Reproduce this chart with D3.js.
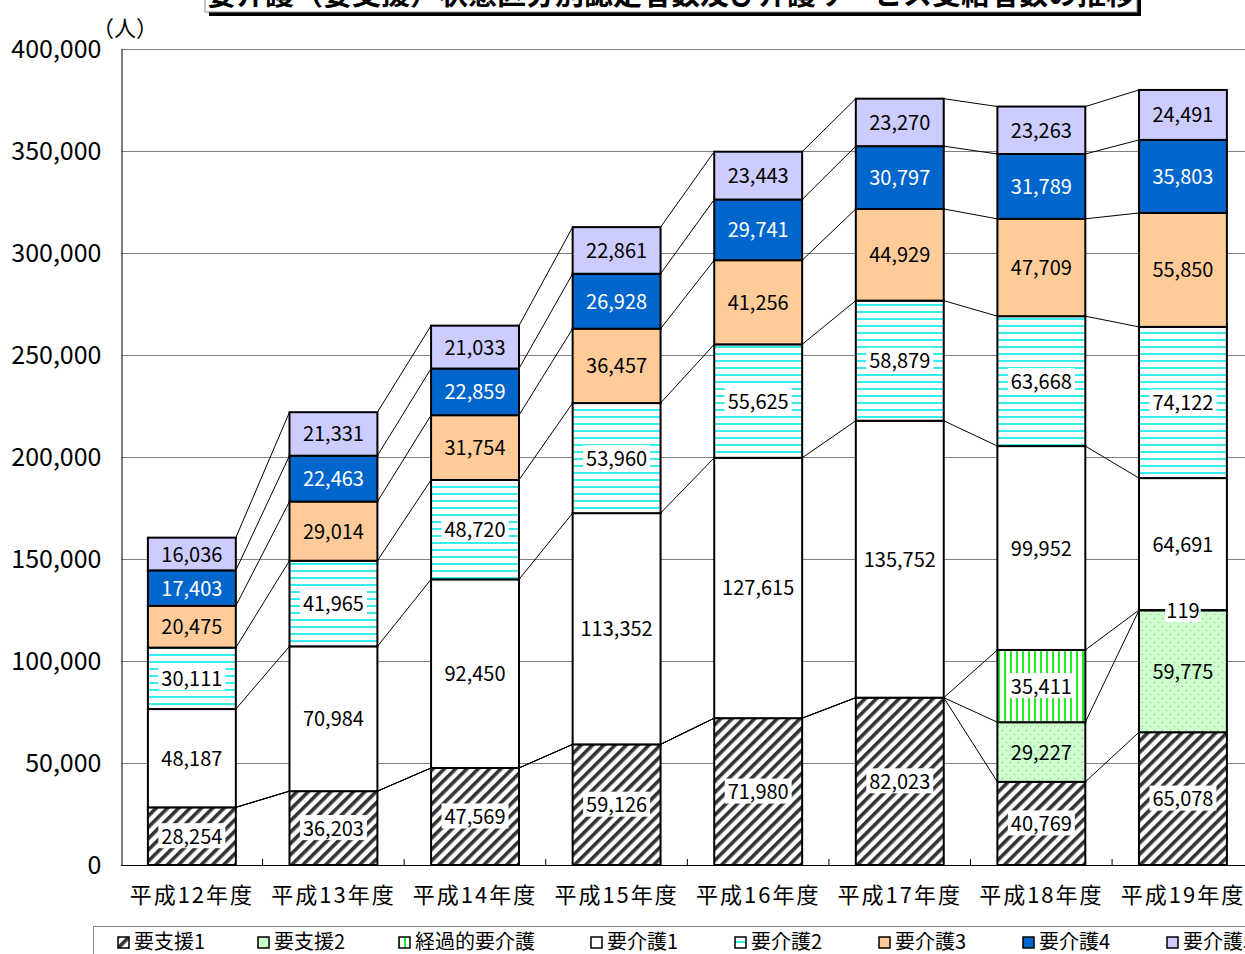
<!DOCTYPE html>
<html>
<head>
<meta charset="utf-8">
<script src="https://cdn.jsdelivr.net/npm/d3@7"></script>
<style>
  body { margin: 0; background: #fff; }
  svg { display: block; font-family: "Noto Sans CJK JP", "Noto Sans", sans-serif; }
</style>
</head>
<body>
<div class="chart"></div>
<script>
// data
var years = ["平成12年度", "平成13年度", "平成14年度", "平成15年度", "平成16年度", "平成17年度", "平成18年度", "平成19年度"];
var shien1 = [28254, 36203, 47569, 59126, 71980, 82023, 40769, 65078];
var shien2 = [0, 0, 0, 0, 0, 0, 29227, 59775];
var keika  = [0, 0, 0, 0, 0, 0, 35411, 119];
var kaigo1 = [48187, 70984, 92450, 113352, 127615, 135752, 99952, 64691];
var kaigo2 = [30111, 41965, 48720, 53960, 55625, 58879, 63668, 74122];
var kaigo3 = [20475, 29014, 31754, 36457, 41256, 44929, 47709, 55850];
var kaigo4 = [17403, 22463, 22859, 26928, 29741, 30797, 31789, 35803];
var kaigo5 = [16036, 21331, 21033, 22861, 23443, 23270, 23263, 24491];
var seriesNames = ["要支援1", "要支援2", "経過的要介護", "要介護1", "要介護2", "要介護3", "要介護4", "要介護5"];
var yTicks = [0, 50000, 100000, 150000, 200000, 250000, 300000, 350000, 400000];
var titleText = "要介護（要支援）状態区分別認定者数及び介護サービス受給者数の推移";

var W = 1245, H = 954;
var svg = d3.select(".chart").append("svg")
  .attr("width", W).attr("height", H);

// fills
var defs = svg.append("defs");
var p1 = defs.append("pattern").attr("id", "hatch")
  .attr("patternUnits", "userSpaceOnUse").attr("width", 8).attr("height", 8)
  .attr("patternTransform", "rotate(45)");
p1.append("rect").attr("width", 8).attr("height", 8).attr("fill", "#fff");
p1.append("rect").attr("x", 0).attr("width", 3.6).attr("height", 8).attr("fill", "#333");

var p2 = defs.append("pattern").attr("id", "dots")
  .attr("patternUnits", "userSpaceOnUse").attr("width", 8).attr("height", 8);
p2.append("rect").attr("width", 8).attr("height", 8).attr("fill", "#ccffcc");
p2.append("rect").attr("x", 2).attr("y", 2).attr("width", 1).attr("height", 1).attr("fill", "#999");
p2.append("rect").attr("x", 6).attr("y", 6).attr("width", 1).attr("height", 1).attr("fill", "#999");

var p3 = defs.append("pattern").attr("id", "vstripe")
  .attr("patternUnits", "userSpaceOnUse").attr("width", 6).attr("height", 6);
p3.append("rect").attr("width", 6).attr("height", 6).attr("fill", "#fff");
p3.append("rect").attr("x", 2).attr("width", 2).attr("height", 6).attr("fill", "#22ee22");

var p4 = defs.append("pattern").attr("id", "hstripe")
  .attr("patternUnits", "userSpaceOnUse").attr("width", 6).attr("height", 7);
p4.append("rect").attr("width", 6).attr("height", 7).attr("fill", "#fff");
p4.append("rect").attr("y", 3).attr("width", 6).attr("height", 2).attr("fill", "#33eeee");

var fills = ["url(#hatch)", "url(#dots)", "url(#vstripe)", "#ffffff", "url(#hstripe)", "#ffcc99", "#0066cc", "#ccccff"];
var textCol = ["#000", "#000", "#000", "#000", "#000", "#000", "#fff", "#000"];
var labelBg = [true, false, true, false, true, false, false, false];

// title box, mostly off the top edge
svg.append("rect").attr("x", 209).attr("y", -40).attr("width", 932).attr("height", 56).attr("fill", "#000");
svg.append("rect").attr("x", 205).attr("y", -44).attr("width", 932).attr("height", 56)
  .attr("fill", "#fff").attr("stroke", "#888").attr("stroke-width", 1);
svg.append("text").attr("x", 671).attr("y", 5).attr("text-anchor", "middle")
  .attr("font-size", 29).attr("font-weight", "bold").text(titleText);

// scales
var x = d3.scaleBand().domain(years)
  .range([121, 121 + 8 * 141.6])
  .paddingInner(0.379).paddingOuter(0.19);
var y = d3.scaleLinear().domain([0, 400000]).range([865, 49]);
var bw = x.bandwidth();

// gridlines
svg.append("g").selectAll("line").data(yTicks.slice(1)).enter().append("line")
  .attr("x1", 121).attr("x2", W)
  .attr("y1", function(d) { return y(d) + 0.5; }).attr("y2", function(d) { return y(d) + 0.5; })
  .attr("stroke", "#808080").attr("stroke-width", 1);

// y axis
var yAxis = d3.axisLeft(y).tickValues(yTicks).tickSize(0).tickPadding(20)
  .tickFormat(d3.format(","));
var gy = svg.append("g").attr("transform", "translate(121.5,0)").call(yAxis);
gy.select(".domain").attr("stroke", "#000");
gy.selectAll("text").attr("font-size", 25).attr("fill", "#000")
  .attr("font-family", "'Noto Sans CJK JP', sans-serif");
svg.append("text").attr("x", 92).attr("y", 36).attr("font-size", 22).text("（人）");

// x axis line with inner ticks at category boundaries
svg.append("line").attr("x1", 121).attr("x2", W).attr("y1", 865.5).attr("y2", 865.5)
  .attr("stroke", "#000");
svg.append("g").selectAll("line").data(d3.range(1, 9)).enter().append("line")
  .attr("x1", function(i) { return 121 + i * x.step(); })
  .attr("x2", function(i) { return 121 + i * x.step(); })
  .attr("y1", 859).attr("y2", 865).attr("stroke", "#000");
svg.append("g").selectAll("text").data(years).enter().append("text")
  .attr("x", function(d) { return x(d) + bw / 2; })
  .attr("y", 903).attr("text-anchor", "middle")
  .attr("font-size", 22).attr("letter-spacing", 2).text(function(d) { return d; });

// stack
var table = years.map(function(yr, i) {
  return { year: yr, s0: shien1[i], s1: shien2[i], s2: keika[i], s3: kaigo1[i],
           s4: kaigo2[i], s5: kaigo3[i], s6: kaigo4[i], s7: kaigo5[i] };
});
var keys = ["s0", "s1", "s2", "s3", "s4", "s5", "s6", "s7"];
var stacked = d3.stack().keys(keys)(table);

// series lines between bars
var lines = svg.append("g");
stacked.forEach(function(s) {
  for (var i = 0; i < years.length - 1; i++) {
    lines.append("line")
      .attr("x1", x(years[i]) + bw).attr("y1", y(s[i][1]))
      .attr("x2", x(years[i + 1])).attr("y2", y(s[i + 1][1]))
      .attr("stroke", "#000").attr("stroke-width", 1);
  }
});

// bars
var bars = svg.append("g");
stacked.forEach(function(s, k) {
  bars.selectAll(".b" + k).data(s.filter(function(d) { return d[1] > d[0]; }))
    .enter().append("rect")
    .attr("x", function(d) { return x(d.data.year); })
    .attr("y", function(d) { return y(d[1]); })
    .attr("width", bw)
    .attr("height", function(d) { return y(d[0]) - y(d[1]); })
    .attr("fill", fills[k])
    .attr("stroke", "#000").attr("stroke-width", 2);
});

// segment labels
var fmt = d3.format(",");
var labs = svg.append("g").attr("font-size", 20).attr("text-anchor", "middle");
stacked.forEach(function(s, k) {
  s.forEach(function(d) {
    var v = d[1] - d[0];
    if (v <= 0) return;
    var cx = x(d.data.year) + bw / 2;
    var cy = (y(d[0]) + y(d[1])) / 2;
    var t = fmt(v);
    if (labelBg[k] || v < 1000) {
      var tw = t.length * 10.5 + 4;
      labs.append("rect").attr("x", cx - tw / 2).attr("y", cy - 13)
        .attr("width", tw).attr("height", 25).attr("fill", "#fff");
    }
    labs.append("text").attr("x", cx).attr("y", cy + 7.5)
      .attr("fill", textCol[k]).text(t);
  });
});

// totals
var top = stacked[stacked.length - 1];
labs.selectAll(".tot").data(top).enter().append("text")
  .attr("x", function(d) { return x(d.data.year) + bw / 2; })
  .attr("y", function(d) { return y(d[1]) - 17; })
  .text(function(d) { return fmt(d[1]); });

// legend
var lg = svg.append("g");
lg.append("rect").attr("x", 93.5).attr("y", 926.5).attr("width", 1200).attr("height", 60)
  .attr("fill", "#fff").attr("stroke", "#888");
var legX = [118, 258, 399, 591, 735, 879, 1023, 1167];
seriesNames.forEach(function(n, k) {
  lg.append("rect").attr("x", legX[k]).attr("y", 937).attr("width", 11).attr("height", 11)
    .attr("fill", fills[k]).attr("stroke", "#000").attr("stroke-width", 1.5);
  lg.append("text").attr("x", legX[k] + 16).attr("y", 949).attr("font-size", 20).text(n);
});
</script>
</body>
</html>
